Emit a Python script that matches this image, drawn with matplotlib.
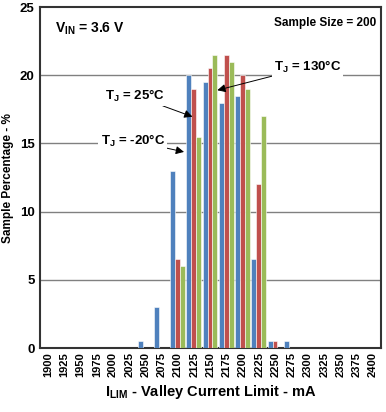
import numpy as np
import matplotlib
matplotlib.use("Agg")
import matplotlib.pyplot as plt

plt.rcParams['font.family'] = ['Liberation Sans', 'DejaVu Sans']
plt.rcParams['font.weight'] = 'bold'
plt.rcParams['mathtext.fontset'] = 'custom'
plt.rcParams['mathtext.rm'] = 'Liberation Sans:bold'
plt.rcParams['mathtext.it'] = 'Liberation Sans:bold'
plt.rcParams['mathtext.bf'] = 'Liberation Sans:bold'

# valley current limit bins (mA)
categories = [str(v) for v in range(1900, 2401, 25)]
# sample percentage per bin
tj_m20 = [0, 0, 0, 0, 0, 0, 0.5, 3, 13, 20, 19.5, 18, 18.5, 6.5, 0.5, 0.5, 0, 0, 0, 0, 0]
tj_25 = [0, 0, 0, 0, 0, 0, 0, 0, 6.5, 19, 20.5, 21.5, 20, 12, 0.5, 0, 0, 0, 0, 0, 0]
tj_130 = [0, 0, 0, 0, 0, 0, 0, 0, 6, 15.5, 21.5, 21, 19, 17, 0, 0, 0, 0, 0, 0, 0]

colors = ['#4F81BD', '#C0504D', '#9BBB59']

fig = plt.figure(figsize=(3.86, 4.12), dpi=100)
ax = fig.add_axes([0.1036, 0.155, 0.8834, 0.828])

x = np.arange(len(categories))
w = 0.3
for k, (vals, c) in enumerate(zip([tj_m20, tj_25, tj_130], colors)):
    v = np.array(vals, dtype=float)
    m = v > 0
    ax.bar(x[m] + (k - 1) * w - 0.03, v[m], width=w, color=c,
           edgecolor='white', linewidth=0.4, zorder=3)

ax.set_xlim(-0.5, len(categories) - 0.5)
ax.set_ylim(0, 25)
ax.set_yticks([0, 5, 10, 15, 20, 25])
ax.set_xticks(x)
ax.set_xticklabels(categories, rotation=90, fontsize=8, fontweight='bold')
ax.tick_params(axis='y', labelsize=9.5, length=0, pad=4)
ax.tick_params(axis='x', length=0, pad=3)
for t in ax.get_yticklabels():
    t.set_fontweight('bold')

for yv in [5, 10, 15, 20]:
    ax.axhline(yv, color='#808080', linewidth=1, zorder=1)

for s in ax.spines.values():
    s.set_color('#333333')
    s.set_linewidth(1.5)

ax.set_xlabel(r'I$_{\rm LIM}$ - Valley Current Limit - mA', fontsize=10.5,
              fontweight='bold', labelpad=4)
ax.set_ylabel('Sample Percentage - %', fontsize=8.5, fontweight='bold', labelpad=4)

wb = dict(facecolor='white', edgecolor='none', pad=1.5)
ax.text(0.45, 23.4, r'V$_{\rm IN}$ = 3.6 V', fontsize=10, fontweight='bold',
        ha='left', va='center', zorder=5)
ax.text(20.2, 23.8, 'Sample Size = 200', fontsize=8.5, fontweight='bold',
        ha='right', va='center', zorder=5)

arrow = dict(arrowstyle='-|>', color='black', lw=0.7, mutation_scale=12,
             shrinkA=0, shrinkB=0)
ax.annotate(r'T$_{\rm J}$ = 130°C', xy=(10.42, 18.9), xytext=(13.9, 20.6),
            fontsize=9.5, fontweight='bold', ha='left', va='center',
            bbox=wb, arrowprops=arrow, zorder=5)
ax.annotate(r'T$_{\rm J}$ = 25°C', xy=(8.89, 16.96), xytext=(7.2, 18.5),
            fontsize=9.5, fontweight='bold', ha='right', va='center',
            bbox=wb, arrowprops=arrow, zorder=5)
ax.annotate(r'T$_{\rm J}$ = -20°C', xy=(8.37, 14.38), xytext=(7.2, 15.2),
            fontsize=9.5, fontweight='bold', ha='right', va='center',
            bbox=wb, arrowprops=arrow, zorder=5)

fig.savefig('out.png', dpi=100)
